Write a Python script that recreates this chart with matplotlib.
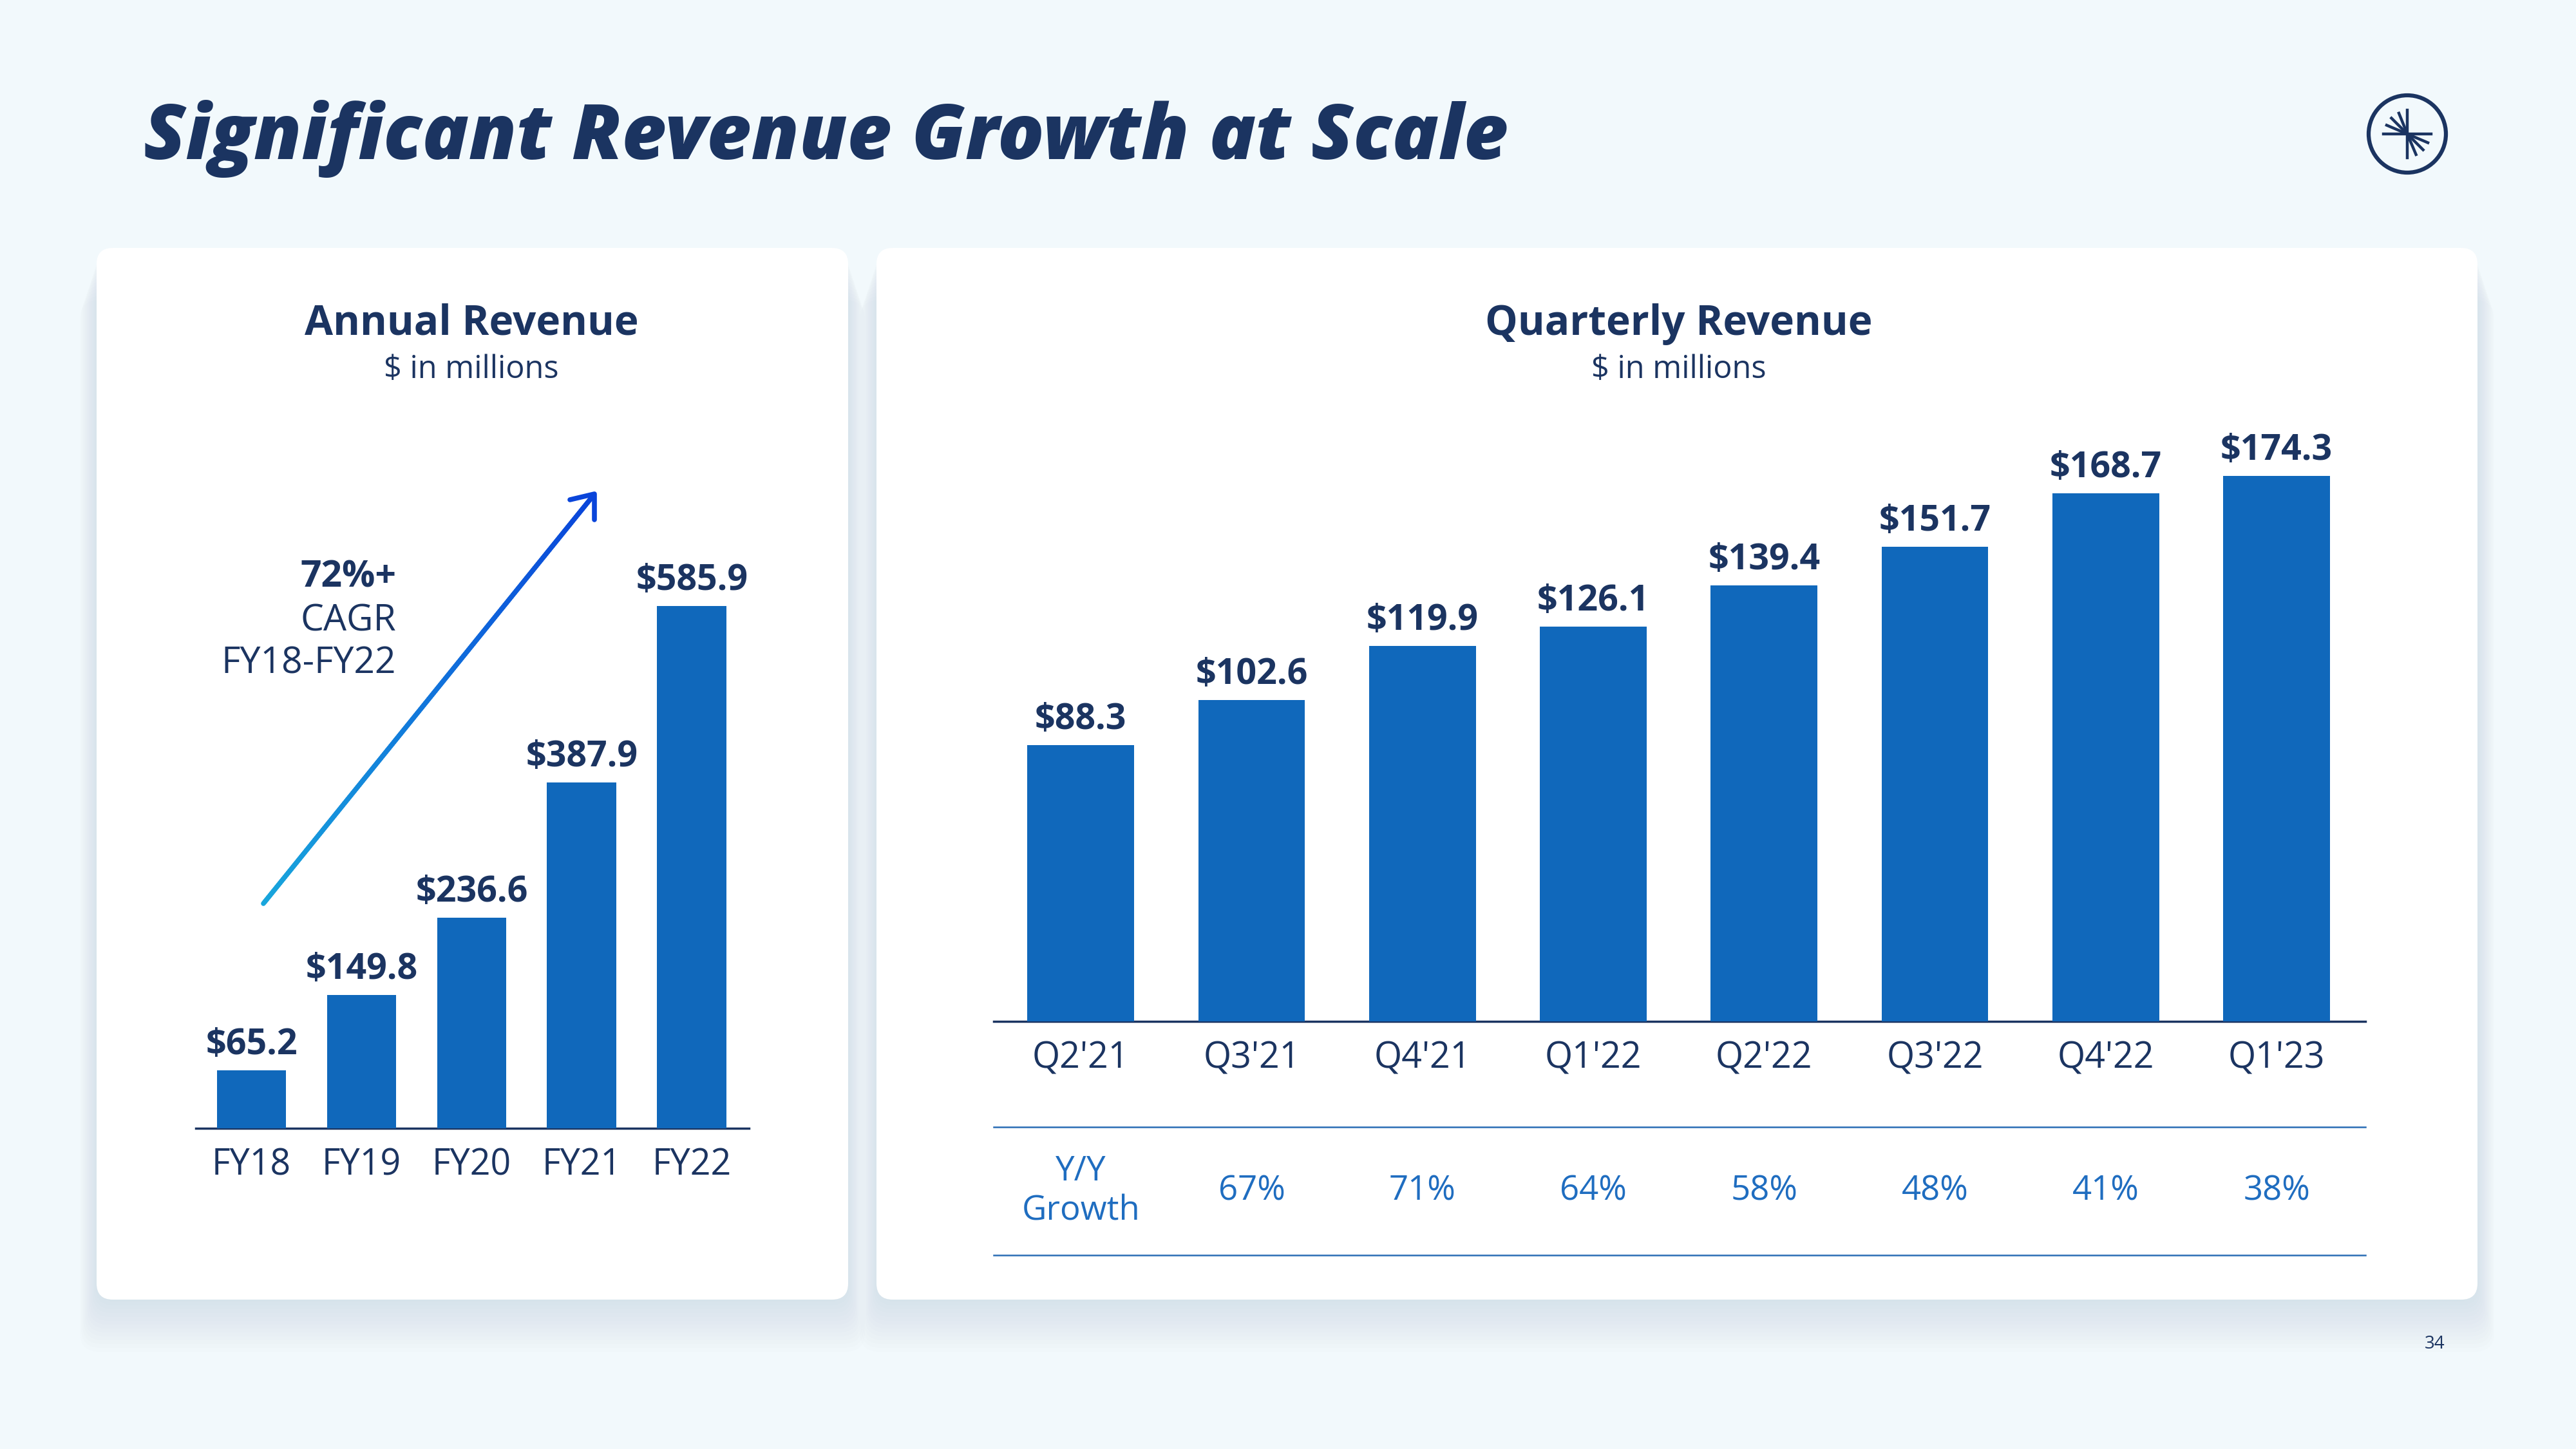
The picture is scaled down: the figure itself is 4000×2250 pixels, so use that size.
import numpy as np
import matplotlib.pyplot as plt
from matplotlib.patches import FancyBboxPatch, Circle
from matplotlib.collections import LineCollection
from matplotlib.transforms import blended_transform_factory

plt.rcParams['font.family'] = ['Open Sans', 'DejaVu Sans']

# data
years = ['FY18', 'FY19', 'FY20', 'FY21', 'FY22']
annual = [65.2, 149.8, 236.6, 387.9, 585.9]
quarters = ["Q2'21", "Q3'21", "Q4'21", "Q1'22", "Q2'22", "Q3'22", "Q4'22", "Q1'23"]
quarterly = [88.3, 102.6, 119.9, 126.1, 139.4, 151.7, 168.7, 174.3]
growth = ['Y/Y\nGrowth', '67%', '71%', '64%', '58%', '48%', '41%', '38%']

navy = '#1B3461'
bar_blue = '#1068BB'
table_blue = '#1F6DC0'
bg = '#F2F9FC'

W, H = 4000, 2250
fig = plt.figure(figsize=(40, 22.5), dpi=100)
fig.patch.set_facecolor(bg)

# full-figure axes in pixel units for the slide decoration
deco = fig.add_axes([0, 0, 1, 1])
deco.set_xlim(0, W)
deco.set_ylim(H, 0)
deco.axis('off')


def px_axes(x0, y0, x1, y1):
    a = fig.add_axes([x0 / W, 1 - y1 / H, (x1 - x0) / W, (y1 - y0) / H])
    a.patch.set_alpha(0)
    return a


def card(x0, y0, x1, y1):
    # soft shadow below, then white rounded card
    for i in range(14):
        off = 3 + i * 6
        deco.add_patch(FancyBboxPatch((x0 - i * 2, y0 + off), x1 - x0 + i * 4, y1 - y0,
                                      boxstyle='round,pad=0,rounding_size=30',
                                      fc='#9DB6C3', ec='none', alpha=0.018, zorder=1))
    deco.add_patch(FancyBboxPatch((x0, y0), x1 - x0, y1 - y0,
                                  boxstyle='round,pad=0,rounding_size=25',
                                  fc='white', ec='none', zorder=2))


card(150, 385, 1317, 2018)
card(1361, 385, 3847, 2018)

# slide title
deco.text(223, 247, 'Significant Revenue Growth at Scale', fontsize=86,
          fontweight='heavy', style='italic', color=navy, va='baseline')

# logo
cx, cy = 3738, 208
deco.add_patch(Circle((cx, cy), 60, fill=False, ec=navy, lw=4.5, zorder=3))
deco.plot([cx - 37, cx + 37], [cy, cy], color=navy, lw=3.2, zorder=3)
deco.plot([cx, cx], [cy - 37, cy + 37], color=navy, lw=3.2, zorder=3)
for ang in [157, 135, 112, -23, -45, -67]:
    r = np.deg2rad(ang)
    deco.plot([cx, cx + 37 * np.cos(r)], [cy, cy - 37 * np.sin(r)],
              color=navy, lw=3.2, solid_capstyle='butt', zorder=3)

# page number
deco.text(3781, 2087, '34', fontsize=20, ha='center', va='center', color=navy)

# panel titles
deco.text(732, 520, 'Annual Revenue', fontsize=46, fontweight='bold', color=navy,
          ha='center', va='baseline', zorder=5)
deco.text(732, 587, '$ in millions', fontsize=35, color=navy,
          ha='center', va='baseline', zorder=5)
deco.text(2607, 520, 'Quarterly Revenue', fontsize=46, fontweight='bold', color=navy,
          ha='center', va='baseline', zorder=5)
deco.text(2607, 587, '$ in millions', fontsize=35, color=navy,
          ha='center', va='baseline', zorder=5)

# CAGR arrow with gradient
x_a = np.linspace(409, 920, 200)
y_a = np.linspace(1403, 771, 200)
pts = np.array([x_a, y_a]).T.reshape(-1, 1, 2)
segs = np.concatenate([pts[:-1], pts[1:]], axis=1)
c0 = np.array([0x18, 0xA6, 0xDC]) / 255
c1 = np.array([0x0A, 0x45, 0xDA]) / 255
t = np.linspace(0, 1, len(segs))[:, None]
lc = LineCollection(segs, colors=c0 * (1 - t) + c1 * t, linewidths=5.5,
                    capstyle='round', zorder=4)
deco.add_collection(lc)
deco.plot([885, 923, 923], [776, 767, 807], color='#0A45DA', lw=5.5,
          solid_capstyle='round', solid_joinstyle='round', zorder=4)

deco.text(615, 912, '72%+', fontsize=41, fontweight='bold', color=navy,
          ha='right', va='baseline', zorder=5)
deco.text(615, 979, 'CAGR', fontsize=41, color=navy, ha='right', va='baseline', zorder=5)
deco.text(615, 1045, 'FY18-FY22', fontsize=41, color=navy, ha='right', va='baseline', zorder=5)

# annual chart
ax1 = px_axes(304, 700, 1163, 1752)
x1 = np.arange(len(years))
ax1.bar(x1, annual, width=0.63, color=bar_blue, zorder=3)
ax1.set_xlim(-0.507, 4.52)
ax1.set_ylim(0, 1052 / 1.384)
for xi, v in zip(x1, annual):
    ax1.annotate(f'${v:.1f}', (xi, v), xytext=(0, 18), textcoords='offset points',
                 ha='center', va='baseline', fontsize=40, fontweight='bold', color=navy)

# quarterly chart
ax2 = px_axes(1543, 600, 3673, 1586)
x2 = np.arange(len(quarters))
ax2.bar(x2, quarterly, width=0.625, color=bar_blue, zorder=3)
ax2.set_xlim(-0.51, 7.52)
ax2.set_ylim(0, 986 / 4.86)
for xi, v in zip(x2, quarterly):
    ax2.annotate(f'${v:.1f}', (xi, v), xytext=(0, 18), textcoords='offset points',
                 ha='center', va='baseline', fontsize=40, fontweight='bold', color=navy)

for ax, labels, xs in [(ax1, years, x1), (ax2, quarters, x2)]:
    for s in ['top', 'left', 'right']:
        ax.spines[s].set_visible(False)
    ax.spines['bottom'].set_color(navy)
    ax.spines['bottom'].set_linewidth(2.5)
    ax.set_yticks([])
    ax.set_xticks(xs)
    ax.set_xticklabels(labels, fontsize=40, color=navy)
    ax.tick_params(axis='x', length=0, pad=21)

# Y/Y growth table under quarterly chart
deco.plot([1543, 3673], [1750, 1750], color='#2A6DB5', lw=1.8, zorder=4)
deco.plot([1543, 3673], [1949, 1949], color='#2A6DB5', lw=1.8, zorder=4)
tr = blended_transform_factory(ax2.transData, deco.transData)
for xi, g in zip(x2, growth):
    ax2.text(xi, 1850, g, transform=tr, ha='center', va='center', fontsize=38,
             color=table_blue, linespacing=1.2, clip_on=False)

fig.savefig('out.png', dpi=100, facecolor=bg)
